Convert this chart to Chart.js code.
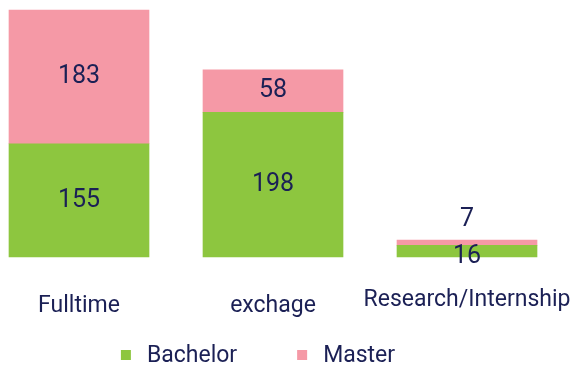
<!DOCTYPE html>
<html>
<head>
<meta charset="utf-8">
<script src="https://cdn.jsdelivr.net/npm/chart.js@4"></script>
<style>
    body { margin: 0; background: #ffffff; }
</style>
</head>
<body>
<canvas id="studentsChart" width="576" height="366"></canvas>
<script>
const categories = ['Fulltime', 'exchage', 'Research/Internship'];
const bachelorCounts = [155, 198, 16];
const masterCounts = [183, 58, 7];

const navy = '#1b2055';
const green = '#8dc63f';
const pink = '#f599a6';
const fontFamily = 'Roboto';

// writes each segment's count on the bar
const valueLabels = {
    id: 'valueLabels',
    afterDatasetsDraw(chart) {
        const ctx = chart.ctx;
        ctx.save();
        ctx.font = '25px ' + fontFamily;
        ctx.fillStyle = navy;
        ctx.textAlign = 'center';
        ctx.textBaseline = 'middle';
        const last = chart.data.datasets.length - 1;
        chart.data.datasets.forEach((dataset, di) => {
            chart.getDatasetMeta(di).data.forEach((bar, i) => {
                let y = (bar.y + bar.base) / 2;
                if (bar.base - bar.y < 20) {
                    // thin segments: top one goes above the bar, bottom one on the baseline
                    y = di === last ? bar.y - 20 : bar.base;
                }
                ctx.fillText(dataset.data[i], bar.x, y);
            });
        });
        ctx.restore();
    }
};

// legend row under the axis labels: small square, then the series name
const bottomLegend = {
    id: 'bottomLegend',
    afterDraw(chart) {
        const ctx = chart.ctx;
        const box = 10, textGap = 16, itemGap = 60;
        ctx.save();
        ctx.font = '23px ' + fontFamily;
        ctx.textBaseline = 'middle';
        const items = chart.data.datasets.map(ds => ({
            text: ds.label,
            color: ds.backgroundColor,
            width: box + textGap + ctx.measureText(ds.label).width
        }));
        const total = items.reduce((s, it) => s + it.width, 0) + itemGap * (items.length - 1);
        let x = 258 - total / 2;
        const y = chart.scales.x.bottom + 32;
        items.forEach(it => {
            ctx.fillStyle = it.color;
            ctx.fillRect(x, y - box / 2, box, box);
            ctx.fillStyle = navy;
            ctx.fillText(it.text, x + box + textGap, y + 1);
            x += it.width + itemGap;
        });
        ctx.restore();
    }
};

document.addEventListener("DOMContentLoaded", function() {
    const ctx = document.getElementById('studentsChart').getContext('2d');
    new Chart(ctx, {
        type: 'bar',
        data: {
            labels: categories,
            datasets: [{
                    label: 'Bachelor',
                    data: bachelorCounts,
                    backgroundColor: green,
                    barThickness: 140,
                    clip: false
                },
                {
                    label: 'Master',
                    data: masterCounts,
                    backgroundColor: pink,
                    barThickness: 140,
                    clip: false
                }
            ]
        },
        options: {
            responsive: false,
            animation: false,
            layout: {
                padding: { top: 10, left: 79, right: 109, bottom: 43 }
            },
            scales: {
                x: {
                    stacked: true,
                    offset: false,
                    grid: { display: false, drawTicks: false },
                    border: { display: false },
                    ticks: {
                        color: navy,
                        padding: 35,
                        maxRotation: 0,
                        autoSkip: false,
                        font: function(context) {
                            return {
                                family: fontFamily,
                                size: 23,
                                lineHeight: context.index === 2 ? 0.7 : 1.2
                            };
                        }
                    },
                    afterFit: function(scale) {
                        scale.height = 66;
                        scale.paddingLeft = 0;
                        scale.paddingRight = 0;
                    }
                },
                y: {
                    display: false,
                    stacked: true,
                    min: 0,
                    max: 338
                }
            },
            plugins: {
                legend: { display: false },
                tooltip: { enabled: false }
            }
        },
        plugins: [valueLabels, bottomLegend]
    });
});
</script>
</body>
</html>
